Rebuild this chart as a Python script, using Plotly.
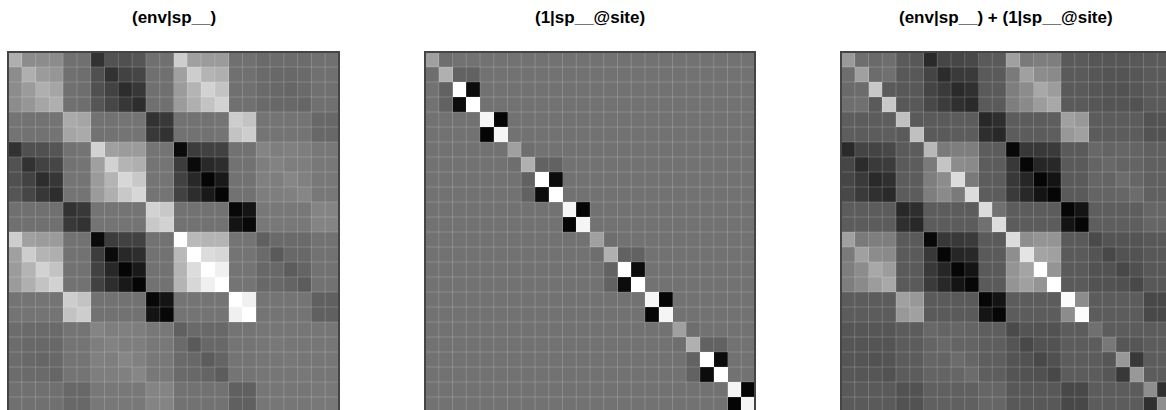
import plotly.graph_objects as go

# Covariance images, stored as grey levels (0 = black, 255 = white).
# Rows/columns are the 24 species x site combinations.
ENV_SP = [
    [175,140,140,140,112,112,50,82,80,85,112,112,205,160,155,155,112,112,106,108,108,108,112,112],
    [140,175,155,150,112,110,80,50,66,70,112,112,160,205,180,175,112,112,106,104,104,106,112,112],
    [140,155,175,165,112,110,80,66,45,55,112,112,155,180,210,195,112,112,106,104,102,106,112,112],
    [140,150,165,175,112,110,85,70,55,45,112,112,155,175,195,210,112,112,106,104,104,102,112,112],
    [116,114,114,116,170,165,114,114,116,116,50,56,114,114,114,116,205,195,116,116,116,116,104,104],
    [116,114,114,116,165,170,114,114,116,116,56,50,114,114,114,116,195,205,116,116,116,116,104,104],
    [50,80,80,85,114,116,210,160,155,155,116,116,10,60,65,65,114,114,132,126,128,126,120,120],
    [82,50,66,70,114,116,160,210,180,175,116,116,60,10,40,45,114,114,126,130,126,126,120,120],
    [80,66,45,55,116,116,155,180,215,200,116,116,65,40,5,25,114,114,128,126,134,128,120,120],
    [85,70,55,45,116,116,155,175,200,215,116,116,65,45,25,5,114,114,126,126,128,134,120,120],
    [112,112,112,112,50,56,116,116,116,116,210,200,114,114,114,114,8,20,120,120,120,120,132,132],
    [112,112,112,112,56,50,116,116,116,116,200,210,114,114,114,114,20,8,120,120,120,120,132,132],
    [205,160,155,155,114,114,10,60,65,65,114,114,255,185,180,180,116,116,96,106,106,106,114,114],
    [160,205,180,175,114,114,60,10,40,45,114,114,185,255,220,215,116,116,106,90,104,104,114,114],
    [155,180,210,195,114,114,65,40,5,25,114,114,180,220,255,240,116,116,104,104,92,100,114,114],
    [155,175,195,210,114,114,65,45,25,5,114,114,180,215,240,255,116,116,104,104,100,92,114,114],
    [116,116,116,116,205,195,114,114,114,114,8,20,116,116,116,116,255,240,116,116,116,116,96,96],
    [116,116,116,116,195,205,114,114,114,114,20,8,116,116,116,116,240,255,116,116,116,116,96,96],
    [108,106,106,106,116,116,132,126,128,126,120,120,96,106,104,104,116,116,118,118,118,118,118,118],
    [108,104,104,104,116,116,126,130,126,126,120,120,106,90,104,104,116,116,118,120,118,118,118,118],
    [108,104,102,104,116,116,128,126,134,128,120,120,106,104,92,100,116,116,118,118,120,118,118,118],
    [108,106,106,102,116,116,126,126,128,134,120,120,106,104,100,92,116,116,118,118,118,120,118,118],
    [112,112,112,112,104,104,120,120,120,120,132,132,114,114,114,114,96,96,118,118,118,118,120,120],
    [112,112,112,112,104,104,120,120,120,120,132,132,114,114,114,114,96,96,118,118,118,118,120,120],
]

SP_AT_SITE = [
    [160,110,114,114,114,114,114,114,114,114,114,114,114,114,114,114,114,114,114,114,114,114,114,114],
    [110,176,98,98,114,114,114,114,114,114,114,114,114,114,114,114,114,114,114,114,114,114,114,114],
    [114,98,255,12,114,114,114,114,114,114,114,114,114,114,114,114,114,114,114,114,114,114,114,114],
    [114,98,12,255,114,114,114,114,114,114,114,114,114,114,114,114,114,114,114,114,114,114,114,114],
    [114,114,114,114,245,5,114,114,114,114,114,114,114,114,114,114,114,114,114,114,114,114,114,114],
    [114,114,114,114,5,245,114,114,114,114,114,114,114,114,114,114,114,114,114,114,114,114,114,114],
    [114,114,114,114,114,114,160,110,114,114,114,114,114,114,114,114,114,114,114,114,114,114,114,114],
    [114,114,114,114,114,114,110,176,98,98,114,114,114,114,114,114,114,114,114,114,114,114,114,114],
    [114,114,114,114,114,114,114,98,255,12,114,114,114,114,114,114,114,114,114,114,114,114,114,114],
    [114,114,114,114,114,114,114,98,12,255,114,114,114,114,114,114,114,114,114,114,114,114,114,114],
    [114,114,114,114,114,114,114,114,114,114,245,5,114,114,114,114,114,114,114,114,114,114,114,114],
    [114,114,114,114,114,114,114,114,114,114,5,245,114,114,114,114,114,114,114,114,114,114,114,114],
    [114,114,114,114,114,114,114,114,114,114,114,114,160,110,114,114,114,114,114,114,114,114,114,114],
    [114,114,114,114,114,114,114,114,114,114,114,114,110,176,98,98,114,114,114,114,114,114,114,114],
    [114,114,114,114,114,114,114,114,114,114,114,114,114,98,255,12,114,114,114,114,114,114,114,114],
    [114,114,114,114,114,114,114,114,114,114,114,114,114,98,12,255,114,114,114,114,114,114,114,114],
    [114,114,114,114,114,114,114,114,114,114,114,114,114,114,114,114,245,5,114,114,114,114,114,114],
    [114,114,114,114,114,114,114,114,114,114,114,114,114,114,114,114,5,245,114,114,114,114,114,114],
    [114,114,114,114,114,114,114,114,114,114,114,114,114,114,114,114,114,114,160,110,114,114,114,114],
    [114,114,114,114,114,114,114,114,114,114,114,114,114,114,114,114,114,114,110,176,98,98,114,114],
    [114,114,114,114,114,114,114,114,114,114,114,114,114,114,114,114,114,114,114,98,255,12,114,114],
    [114,114,114,114,114,114,114,114,114,114,114,114,114,114,114,114,114,114,114,98,12,255,114,114],
    [114,114,114,114,114,114,114,114,114,114,114,114,114,114,114,114,114,114,114,114,114,114,245,5],
    [114,114,114,114,114,114,114,114,114,114,114,114,114,114,114,114,114,114,114,114,114,114,5,245],
]

COMBINED = [
    [154,110,106,110,90,88,42,70,70,72,90,90,160,122,126,126,90,90,86,86,86,88,90,90],
    [110,160,108,112,88,88,68,44,58,58,90,90,122,160,140,138,90,90,86,84,84,86,90,90],
    [106,108,200,90,88,88,68,58,42,48,90,90,126,140,168,156,90,90,86,84,82,86,90,90],
    [110,112,90,200,88,88,72,60,48,42,90,90,126,138,156,168,90,90,86,84,84,82,90,90],
    [94,92,92,94,192,90,90,90,92,92,40,46,92,92,92,94,160,152,92,92,92,92,82,82],
    [94,92,92,94,90,192,90,90,92,92,46,40,92,92,92,94,152,160,92,92,92,92,82,82],
    [42,68,68,72,90,92,184,122,126,126,92,92,8,56,56,58,90,90,104,100,102,100,96,96],
    [70,44,58,60,90,92,122,196,140,138,92,92,56,6,38,40,90,90,100,104,100,100,96,96],
    [70,58,42,48,92,92,126,140,220,122,92,92,56,38,6,20,90,90,102,100,108,102,96,96],
    [72,58,48,42,92,92,126,138,122,220,92,92,58,40,20,6,90,90,100,100,102,108,96,96],
    [92,92,92,92,40,46,92,92,92,92,220,112,92,92,92,92,6,20,94,94,94,94,102,102],
    [92,92,92,92,46,40,92,92,92,92,112,220,92,92,92,92,20,6,94,94,94,94,102,102],
    [160,122,126,126,90,90,8,56,56,58,90,90,220,142,148,148,90,90,74,84,84,84,88,88],
    [122,160,140,138,90,90,56,6,38,40,90,90,142,228,164,160,90,90,84,72,82,82,88,88],
    [126,140,168,156,90,90,56,38,6,20,90,90,148,164,255,148,90,90,82,82,72,80,88,88],
    [126,138,156,168,90,90,58,40,20,6,90,90,148,160,148,255,90,90,82,82,80,72,88,88],
    [92,92,92,92,160,152,90,90,90,90,6,20,92,92,92,92,252,140,92,92,92,92,72,72],
    [92,92,92,92,152,160,90,90,90,90,20,6,92,92,92,92,140,252,92,92,92,92,72,72],
    [86,86,86,86,92,92,104,100,102,100,94,94,74,84,82,82,92,92,112,92,92,92,92,92],
    [86,84,84,84,92,92,100,104,100,100,94,94,84,72,82,82,92,92,92,120,86,86,92,92],
    [86,84,82,84,92,92,102,100,108,102,94,94,84,82,72,80,92,92,92,86,152,56,92,92],
    [88,86,86,82,92,92,100,100,102,108,94,94,84,82,80,72,92,92,92,86,56,152,92,92],
    [90,90,90,90,82,82,96,96,96,96,102,102,88,88,88,88,72,72,92,92,92,92,142,48],
    [90,90,90,90,82,82,96,96,96,96,102,102,88,88,88,88,72,72,92,92,92,92,48,142],
]

TITLES = ["(env|sp__)", "(1|sp__@site)", "(env|sp__) + (1|sp__@site)"]
PANELS = [ENV_SP, SP_AT_SITE, COMBINED]

W, H = 1166, 410
TOP = 52
ROW_PX = 15.0
# left / right pixel edges of each image panel
EDGES = [(8, 339), (425, 755), (841, 1171)]

n = 24
plot_h = H - TOP
y_range = [-0.5 + plot_h / ROW_PX, -0.5]

fig = go.Figure()
shapes = []
annotations = []

for i, (z, title, (x0, x1)) in enumerate(zip(PANELS, TITLES, EDGES)):
    xa = "x" if i == 0 else f"x{i + 1}"
    ya = "y" if i == 0 else f"y{i + 1}"
    vis_x1 = min(x1, W)
    x_hi = -0.5 + n * (vis_x1 - x0) / (x1 - x0)

    fig.add_trace(go.Heatmap(
        z=z, x=list(range(n)), y=list(range(n)),
        colorscale=[[0, "black"], [1, "white"]], zmin=0, zmax=255,
        showscale=False, xaxis=xa, yaxis=ya, hoverinfo="skip",
    ))

    # faint cell grid
    gx, gy = [], []
    for k in range(1, n):
        b = k - 0.5
        gx += [b, b, None, -0.5, n - 0.5, None]
        gy += [-0.5, n - 0.5, None, b, b, None]
    fig.add_trace(go.Scatter(
        x=gx, y=gy, mode="lines", xaxis=xa, yaxis=ya,
        line=dict(color="rgba(255,255,255,0.18)", width=1),
        hoverinfo="skip", showlegend=False,
    ))

    ax = dict(domain=[x0 / W, vis_x1 / W], range=[-0.5, x_hi],
              showticklabels=False, showgrid=False, zeroline=False,
              ticks="", showline=False, fixedrange=True, anchor=ya)
    ay = dict(domain=[0, 1], range=y_range, showticklabels=False,
              showgrid=False, zeroline=False, ticks="", showline=False,
              fixedrange=True, anchor=xa)
    fig.layout[("xaxis" if i == 0 else f"xaxis{i + 1}")] = ax
    fig.layout[("yaxis" if i == 0 else f"yaxis{i + 1}")] = ay

    shapes.append(dict(
        type="rect", xref="paper", yref="paper",
        x0=x0 / W, x1=x1 / W, y0=-0.03, y1=1.0,
        line=dict(color="#454545", width=2), fillcolor="rgba(0,0,0,0)",
        layer="above",
    ))
    annotations.append(dict(
        text=f"<b>{title}</b>", xref="paper", yref="paper",
        x=((x0 + x1) / 2) / W, y=1 + (TOP - 17.5) / plot_h,
        xanchor="center", yanchor="middle", showarrow=False,
        font=dict(family="Liberation Sans, Arial, sans-serif", size=17,
                  color="black"),
    ))

fig.update_layout(
    width=W, height=H,
    margin=dict(l=0, r=0, t=TOP, b=0, pad=0),
    paper_bgcolor="white", plot_bgcolor="white",
    shapes=shapes, annotations=annotations, showlegend=False,
)

fig.write_html("out.html")
